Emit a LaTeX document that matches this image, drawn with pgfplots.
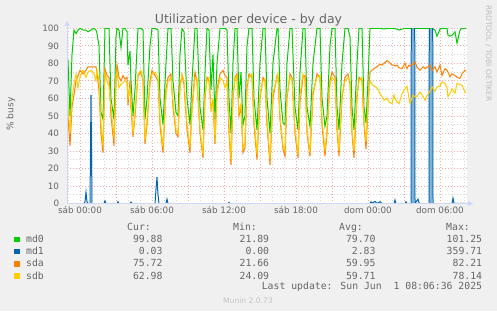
\documentclass[border=0pt]{standalone}
\usepackage{fontspec}
\usepackage{pgfplots}
\usepackage{pgfplotstable}
\pgfplotsset{compat=1.18}
\usetikzlibrary{arrows.meta}
\setmainfont{DejaVu Sans}
\newfontfamily\monofont{DejaVu Sans Mono}
\definecolor{bg}{HTML}{F0F0F0}
\definecolor{fontc}{HTML}{666666}
\definecolor{axisc}{HTML}{CFD6F8}
\definecolor{mgrid}{HTML}{F2A8A8}
\definecolor{mingrid}{HTML}{D4D4D4}
\definecolor{cmd0}{HTML}{00CC00}
\definecolor{cmd1}{HTML}{0066B3}
\definecolor{csda}{HTML}{FF8000}
\definecolor{csdb}{HTML}{FFCC00}

\pgfplotstableread{
x md0 sda sdb
-13 75 65 68
-12 82 50 55
-10 50 33 40
-8 85 55 60
-6 99 62 68
-4 97 70 74
-2 99 73 66
0 100 76 72
3 99 74 76
6 99 76 72
8 98 78 75
11 99 78 76
14 100 78 74
16 99 78 70
17 97 75 76
19 90 65 70
21 52 40 45
23 48 29 33
25 100 77 75
27 100 73 70
29 100 72 67
31 60 50 55
34 48 33 37
36 95 70 72
37 100 79 75
39 99 72 66
41 89 70 68
43 100 73 69
45 100 71 70
47 98 72 69
48 79 56 60
50 87 70 66
51 70 55 58
53 50 38 40
55 65 50 52
58 100 73 74
61 100 75 76
63 99 70 71
65 48 34 36
67 60 45 48
70 90 70 68
72 100 76 74
75 100 73 75
78 99 70 72
80 60 45 48
83 45 29 32
86 80 65 62
88 100 72 70
91 100 74 72
93 70 55 58
96 52 40 42
98 50 38 40
100 85 68 65
102 100 73 74
104 98 68 70
107 60 42 45
110 45 29 32
112 70 55 52
115 100 75 72
117 100 70 71
120 55 40 42
123 42 26 28
125 75 60 62
127 100 72 70
129 99 70 72
131 65 55 52
133 85 58 60
135 48 34 36
137 80 65 62
140 100 74 72
143 100 76 70
145 100 73 66
147 99 72 70
149 60 40 45
151 40 22 25
153 80 60 62
155 100 72 71
157 100 74 73
159 60 50 52
161 75 55 57
163 45 29 31
165 50 32 35
167 90 66 68
169 100 74 72
172 100 72 74
174 60 45 48
177 42 25 28
180 80 60 62
183 100 72 70
185 100 70 71
187 60 45 48
190 40 22 25
193 80 60 63
197 100 73 72
198 100 72 74
200 65 48 50
203 46 31 33
205 45 27 30
207 80 60 62
210 100 74 72
212 100 72 70
215 55 40 43
218 42 26 28
220 75 58 62
223 100 72 74
225 100 73 70
227 55 40 42
230 44 27 29
233 80 62 64
237 100 74 72
240 100 72 73
242 60 45 48
245 44 27 30
247 50 40 42
250 90 70 68
252 100 75 72
255 100 72 70
257 55 42 45
259 42 27 30
262 80 60 62
265 100 72 70
268 100 74 72
270 95 68 70
272 55 40 42
274 42 26 30
277 80 60 62
279 100 72 70
282 100 70 72
284 55 45 47
286 46 31 35
288 70 55 58
290 100 75 70
292 100 76 68
294 100 77 67
297 100 78 66
300 100 79.5 62.6
302 99.8 79 61
304 99.6 80 59
307 100 81.5 60
309 100 80.8 58
312 100 79 57
314 99.8 79 62
315 99.8 78.5 60
317 99.5 79 58
319 99 77.5 57
322 99.5 77 62.6
325 100 80 65.5
327 100 77 67
329 100 79 60
330 100 78.5 57
333 100 79.5 61.8
335 100 80.8 61
337 100 78 61
340 100 76 63.7
343 100 78 61
345 100 77 59
348 100 78 62.5
350 100 79 64
352 100 76 66.6
355 99 78 64
357 95.5 75 66.6
360 99.5 79 67
362 100 73 69.4
365 100 77 68.5
367 100 76 66
368 96 75 61
370 95.5 72.3 63
372 96 74 65.5
375 98 73 63
377 91.5 72 68.5
380 99 71.4 68
382 100 74 67.5
385 100 76 63.7
386 99.9 75.7 63
}\disks

\pgfplotstableread{
x md1
-13 0
4 0
5 1
6 6.5
7 1
8 0
10 0
11 62
12 0
24 0
25 1.5
26 0
37 0
38 1
39 0
50 0
51 0.8
52 0
75 0
76 8
77 15
78 5
79 0
86 0
87 2.5
88 0
148 0
149 0.6
150 0
290 0
291 1
292 0.3
293 0.5
295 1.2
297 0
300 1
302 0
314 0
315 2
316 0
325 0
326 1
327 0
331 0
332 359.7
334 359.7
335 0
338 2.5
339 0.5
340 0
349 0
350 359.7
352 359.7
353 0
372 0
373 3
374 0
386 0.03
}\mdone

\begin{document}
\begin{tikzpicture}[x=1pt,y=1pt]
\fill[bg] (0,0) rectangle (497,311);
\begin{axis}[
  at={(67pt,107.5pt)}, anchor=south west,
  scale only axis, width=400pt, height=175.2pt,
  xmin=-13, xmax=387, ymin=0, ymax=100,
  axis line style={draw=none},
  axis background/.style={fill=white},
  xtick={0,36,72,108,144,180,216,252,288,324,360},
  xticklabels={sáb 00:00,,sáb 06:00,,sáb 12:00,,sáb 18:00,,dom 00:00,,dom 06:00},
  minor xtick={-12,12,24,48,60,84,96,120,132,156,168,192,204,228,240,264,276,300,312,336,348,372,384},
  ytick={0,10,...,100},
  minor ytick={5,15,...,95},
  grid=both,
  major grid style={mgrid, dash pattern=on 1pt off 2pt, line width=0.8pt},
  minor grid style={mingrid, dash pattern=on 1pt off 2pt, line width=0.8pt},
  major tick length=0pt, minor tick length=0pt,
  /pgf/number format/assume math mode=true,
  tick label style={font=\fontsize{8.8}{10}\selectfont, text=fontc},
  yticklabel style={anchor=east, inner sep=0pt, xshift=-7.7pt},
  xticklabel style={anchor=north, inner sep=0pt, yshift=-3.2pt},
]
\addplot[cmd0, line width=1pt] table[x=x,y=md0]{\disks};
\addplot[fill=cmd1!50, draw=none] coordinates {(331.3,0)(331.3,100)(334.7,100)(334.7,0)} \closedcycle;
\addplot[fill=cmd1!50, draw=none] coordinates {(349.3,0)(349.3,100)(352.7,100)(352.7,0)} \closedcycle;
\addplot[cmd1, line width=1pt] table[x=x,y=md1]{\mdone};
\addplot[csda, line width=1pt] table[x=x,y=sda]{\disks};
\addplot[csdb, line width=1pt] table[x=x,y=sdb]{\disks};
\end{axis}
% axes with arrows
\draw[axisc, line width=1pt, -{Triangle[length=5pt,width=5pt]}] (67,107.5) -- (473,107.5);
\draw[axisc, line width=1pt, -{Triangle[length=5pt,width=5pt]}] (67,107.5) -- (67,290);
% title and labels
\node[anchor=base, font=\fontsize{12.5}{14}\selectfont, text=fontc, inner sep=0pt] at (248.5,287.5) {Utilization per device - by day};
\node[rotate=90, anchor=center, font=\fontsize{9}{10}\selectfont, text=fontc, inner sep=0pt] at (11,197) {\% busy};
\node[rotate=-90, anchor=center, font=\fontsize{7.5}{9}\selectfont, text={rgb,255:red,190;green,190;blue,190}, inner sep=0pt] at (488.5,257.5) {RRDTOOL / TOBI OETIKER};
% legend
\begin{scope}[every node/.style={font=\monofont\fontsize{9.8}{11}\selectfont, text=fontc, inner sep=0pt}]
\node[anchor=base east] at (151,80.3) {Cur:};
\node[anchor=base east] at (257,80.3) {Min:};
\node[anchor=base east] at (363,80.3) {Avg:};
\node[anchor=base east] at (470,80.3) {Max:};
\fill[cmd0] (14,68.7) rectangle (20,74.5);
\node[anchor=base west] at (26,68.7) {md0};
\node[anchor=base east] at (162.7,68.7) {99.88};
\node[anchor=base east] at (269.3,68.7) {21.89};
\node[anchor=base east] at (375.7,68.7) {79.70};
\node[anchor=base east] at (482.3,68.7) {101.25};
\fill[cmd1] (14,56.7) rectangle (20,62.5);
\node[anchor=base west] at (26,56.7) {md1};
\node[anchor=base east] at (162.7,56.7) {0.03};
\node[anchor=base east] at (269.3,56.7) {0.00};
\node[anchor=base east] at (375.7,56.7) {2.83};
\node[anchor=base east] at (482.3,56.7) {359.71};
\fill[csda] (14,44.3) rectangle (20,50.1);
\node[anchor=base west] at (26,44.3) {sda};
\node[anchor=base east] at (162.7,44.3) {75.72};
\node[anchor=base east] at (269.3,44.3) {21.66};
\node[anchor=base east] at (375.7,44.3) {59.95};
\node[anchor=base east] at (482.3,44.3) {82.21};
\fill[csdb] (14,32) rectangle (20,37.8);
\node[anchor=base west] at (26,32) {sdb};
\node[anchor=base east] at (162.7,32) {62.98};
\node[anchor=base east] at (269.3,32) {24.09};
\node[anchor=base east] at (375.7,32) {59.71};
\node[anchor=base east] at (482.3,32) {78.14};
\node[anchor=base east] at (482.3,22) {Last update: Sun Jun~~1 08:06:36 2025};
\end{scope}
\node[anchor=base, font=\fontsize{7.6}{9}\selectfont, text={rgb,255:red,195;green,195;blue,195}, inner sep=0pt] at (248,8) {Munin 2.0.73};
\pgfresetboundingbox
\useasboundingbox (0,0) rectangle (497,311);
\end{tikzpicture}
\end{document}
